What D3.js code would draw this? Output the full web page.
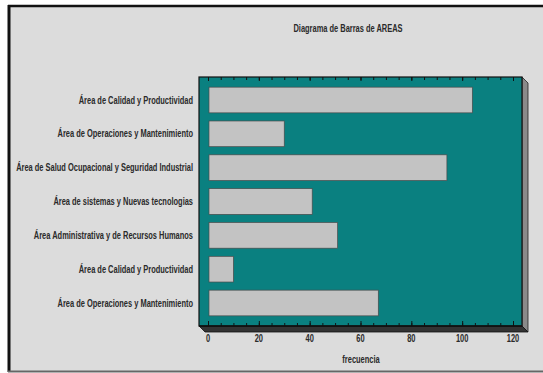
<!DOCTYPE html>
<html>
<head>
<meta charset="utf-8">
<script src="https://cdn.jsdelivr.net/npm/d3@7"></script>
<style>
  body { margin: 0; background: #fff; }
  text { font-family: "Liberation Sans", Arial, sans-serif; font-weight: bold; font-size: 10px; fill: #2a2a2a; }
</style>
</head>
<body>
<script>
(function(){

    //chart data
    var categories = [
        "Área de Calidad y Productividad",
        "Área de Operaciones y Mantenimiento",
        "Área de Salud Ocupacional y Seguridad Industrial",
        "Área de sistemas y Nuevas tecnologias",
        "Área Administrativa y de Recursos Humanos",
        "Área de Calidad y Productividad ",
        "Área de Operaciones y Mantenimiento "
    ];
    var values = [104, 30, 94, 41, 51, 10, 67];
    var xTicks = [0, 20, 40, 60, 80, 100, 120];
    var title = "Diagrama de Barras de AREAS";
    var xTitle = "frecuencia";

    var width = 543, height = 373;

    var svg = d3.select("body")
        .append("svg")
        .attr("width", width)
        .attr("height", height);

    //outer frame
    svg.append("rect")
        .attr("x", 9).attr("y", 6)
        .attr("width", width).attr("height", 365)
        .attr("fill", "#dcdcdc");
    svg.append("line") //top border
        .attr("x1", 8).attr("x2", width).attr("y1", 6).attr("y2", 6)
        .attr("stroke", "#111").attr("stroke-width", 2.5);
    svg.append("line") //left border
        .attr("x1", 9).attr("x2", 9).attr("y1", 5).attr("y2", 372)
        .attr("stroke", "#111").attr("stroke-width", 3);
    svg.append("line") //bottom border
        .attr("x1", 8).attr("x2", width).attr("y1", 371.5).attr("y2", 371.5)
        .attr("stroke", "#666").attr("stroke-width", 2);

    //panel dimensions
    var left = 199, right = 522, top = 77, bottom = 326, depth = 6;

    var x = d3.scaleLinear()
        .domain([0, 120])
        .range([208, 513]);

    var y = d3.scaleBand()
        .domain(d3.range(categories.length))
        .range([top, bottom])
        .paddingInner(0.24)
        .paddingOuter(0.3);

    //narrow text: squeeze horizontally so the longest label is as wide as in the picture
    var probe = svg.append("text").text(categories[2]);
    var squeeze = 177 / probe.node().getComputedTextLength();
    probe.remove();

    function narrowText(px, py, str, anchor){
        return svg.append("g")
            .attr("transform", "translate(" + px + "," + py + ") scale(" + squeeze + ",1)")
            .append("text")
            .attr("text-anchor", anchor)
            .text(str);
    }

    //3d side wall and floor
    svg.append("polygon")
        .attr("points", [[right, top], [right + depth, top + depth], [right + depth, bottom + depth], [right, bottom]].join(" "))
        .attr("fill", "#8a8a8a")
        .attr("stroke", "#222").attr("stroke-width", 0.8);
    svg.append("polygon")
        .attr("points", [[left, bottom], [right, bottom], [right + depth, bottom + depth], [left + depth, bottom + depth]].join(" "))
        .attr("fill", "#333")
        .attr("stroke", "#111").attr("stroke-width", 0.8);

    //teal plot background
    svg.append("rect")
        .attr("x", left).attr("y", top)
        .attr("width", right - left).attr("height", bottom - top)
        .attr("fill", "#0a8080")
        .attr("stroke", "#111").attr("stroke-width", 1.2);

    //bars
    svg.selectAll(".bar")
        .data(values)
        .enter()
        .append("rect")
        .attr("class", "bar")
        .attr("x", x(0) + 1)
        .attr("y", function(d, i){ return y(i); })
        .attr("width", function(d){ return x(d) - x(0) - 1; })
        .attr("height", y.bandwidth())
        .attr("fill", "#c3c3c3")
        .attr("stroke", "#4a4a4a")
        .attr("stroke-width", 0.7);

    //category labels
    categories.forEach(function(c, i){
        narrowText(193, y(i) + y.bandwidth() / 2, c.trim(), "end")
            .attr("dy", "0.35em");
    });

    //minor ticks on bottom and top
    var minor = d3.range(0, 121, 5);
    var gMinor = svg.append("g")
        .attr("transform", "translate(0," + bottom + ")")
        .call(d3.axisBottom(x).tickValues(minor).tickSize(-3).tickFormat(""));
    var gMinorTop = svg.append("g")
        .attr("transform", "translate(0," + top + ")")
        .call(d3.axisTop(x).tickValues(minor).tickSize(-3).tickFormat(""));

    //major ticks, labels drawn narrow below
    var gMajor = svg.append("g")
        .attr("transform", "translate(0," + bottom + ")")
        .call(d3.axisBottom(x).tickValues(xTicks).tickSize(-5).tickFormat(""));
    var gMajorTop = svg.append("g")
        .attr("transform", "translate(0," + top + ")")
        .call(d3.axisTop(x).tickValues(xTicks).tickSize(-4).tickFormat(""));

    [gMinor, gMinorTop, gMajor, gMajorTop].forEach(function(g){
        g.select(".domain").remove();
        g.selectAll("line").attr("stroke", "#111").attr("stroke-width", 1);
    });

    xTicks.forEach(function(t){
        narrowText(x(t), bottom + 16, String(t), "middle");
    });

    //bottom axis line
    svg.append("line")
        .attr("x1", left).attr("x2", right)
        .attr("y1", bottom).attr("y2", bottom)
        .attr("stroke", "#111").attr("stroke-width", 1.5);

    //titles
    narrowText(348, 32, title, "middle");
    narrowText(361, 363, xTitle, "middle");
})();
</script>
</body>
</html>
